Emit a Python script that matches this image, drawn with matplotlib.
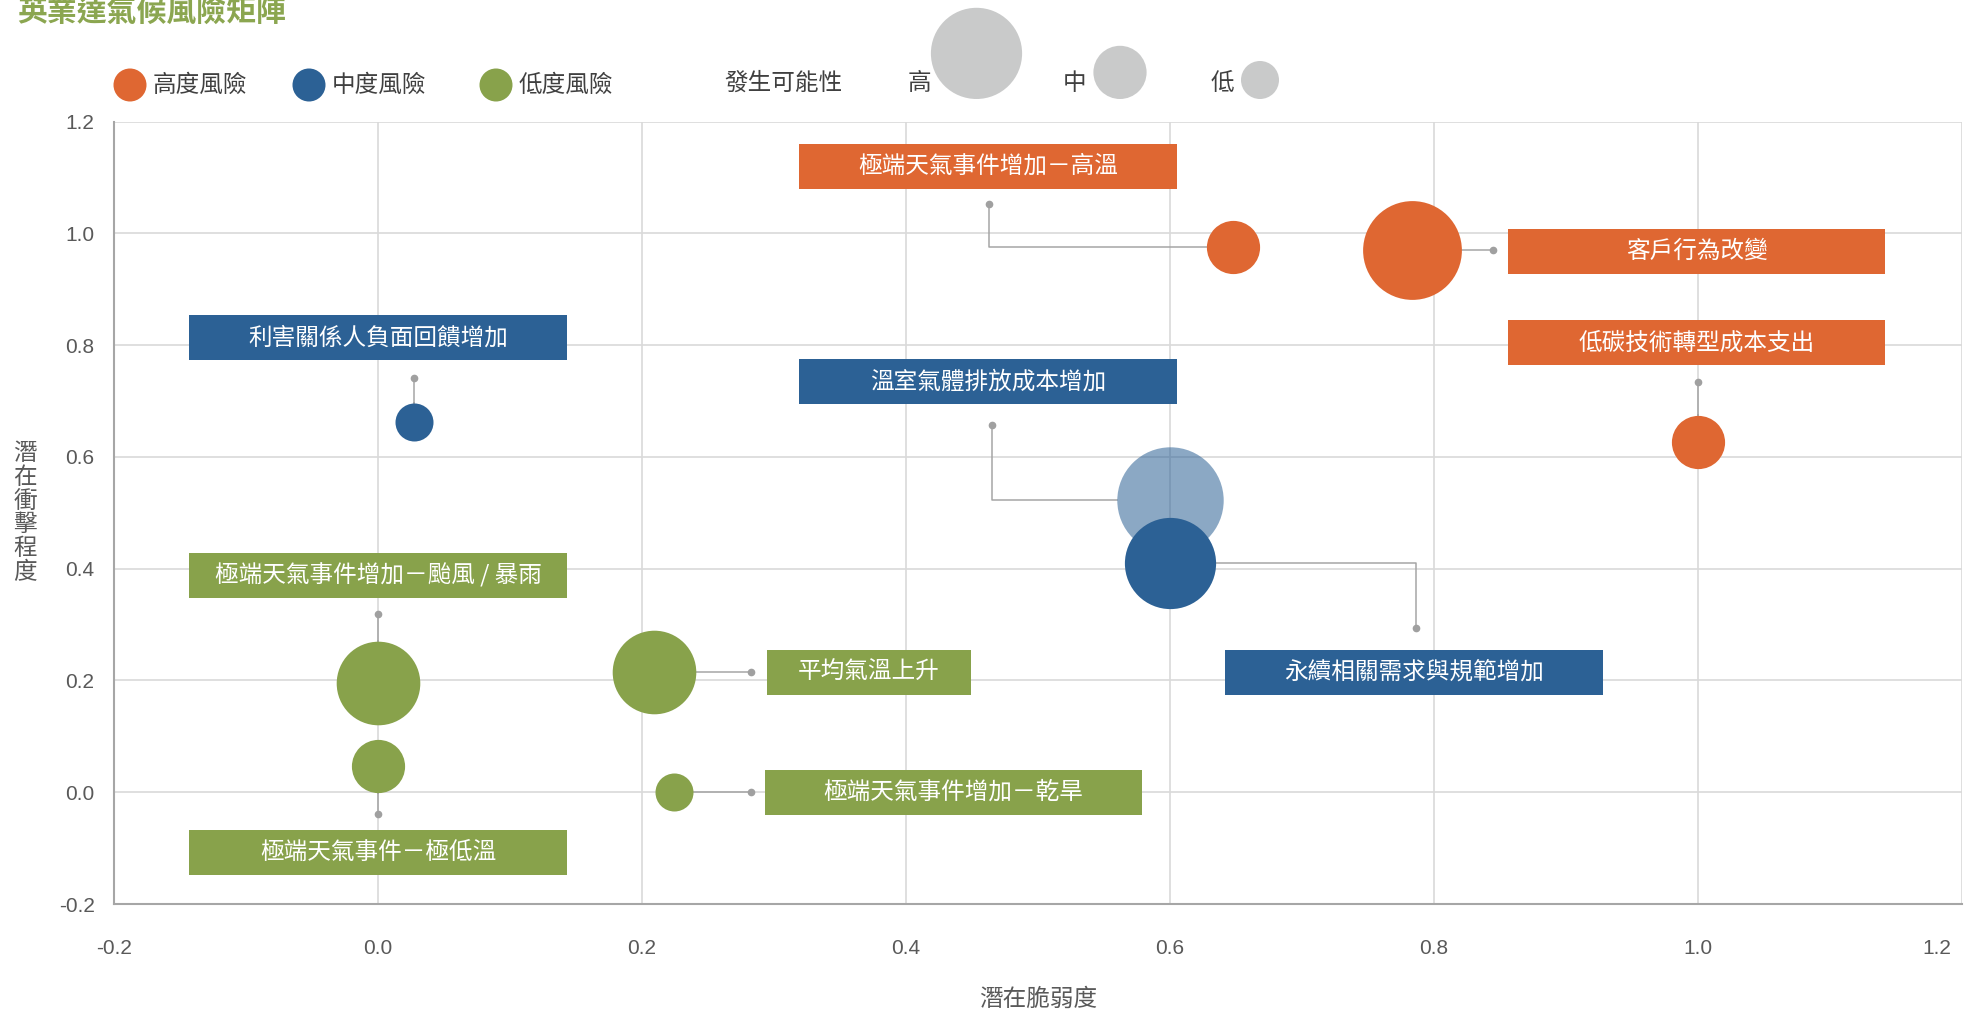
import matplotlib
matplotlib.use("Agg")
import matplotlib.pyplot as plt
from matplotlib.patches import Rectangle, Circle
from matplotlib.ticker import FuncFormatter
from matplotlib.transforms import ScaledTranslation

plt.rcParams['font.family'] = ['Noto Sans CJK TC', 'DejaVu Sans']

# risk items: name, level, vulnerability (x), impact (y), likelihood (bubble scale)
risk_names = ['極端天氣事件增加－高溫', '客戶行為改變', '低碳技術轉型成本支出',
              '利害關係人負面回饋增加', '溫室氣體排放成本增加', '永續相關需求與規範增加',
              '極端天氣事件增加－颱風 / 暴雨', '平均氣溫上升', '極端天氣事件增加－乾旱',
              '極端天氣事件－極低溫']
risk_level = ['高', '高', '高', '中', '中', '中', '低', '低', '低', '低']
vulnerability = [0.648, 0.783, 1.0, 0.027, 0.60, 0.60, 0.0, 0.209, 0.224, 0.0]
impact = [0.975, 0.970, 0.627, 0.662, 0.523, 0.410, 0.195, 0.215, 0.0, 0.047]
likelihood = [1.4, 2.6, 1.4, 1.0, 2.8, 2.4, 2.2, 2.2, 1.0, 1.4]

level_names = ['高度風險', '中度風險', '低度風險']
likelihood_names = ['高', '中', '低']
likelihood_legend = [2.4, 1.4, 1.0]

x_ticks = [-0.2, 0.0, 0.2, 0.4, 0.6, 0.8, 1.0, 1.2]
y_ticks = [-0.2, 0.0, 0.2, 0.4, 0.6, 0.8, 1.0, 1.2]

# label box placement and leader-line end points (data units)
label_x = [0.462, 0.999, 0.999, 0.0, 0.462, 0.785, 0.0, 0.372, 0.436, 0.0]
label_y = [1.120, 0.968, 0.804, 0.813, 0.734, 0.215, 0.388, 0.215, 0.0, -0.107]
label_w = [0.286, 0.286, 0.286, 0.286, 0.286, 0.286, 0.286, 0.155, 0.286, 0.286]
dot_x = [0.4627, 0.845, 1.0, 0.027, 0.4655, 0.786, 0.0, 0.2826, 0.2826, 0.0]
dot_y = [1.053, 0.970, 0.734, 0.741, 0.657, 0.294, 0.319, 0.215, 0.0, -0.039]

colors = {'高': '#DF6732', '中': '#2C6195', '低': '#88A24B'}
GRAY = '#C9CACA'
TXT = '#595959'
BASE_D = 38  # bubble diameter in px for likelihood 1.0

W, H = 1970, 1011
fig = plt.figure(figsize=(W / 100, H / 100), dpi=100)
ax = fig.add_axes([114 / W, 1 - 904 / H, (1962 - 114) / W, (904 - 121.5) / H])
ax.set_xlim(-0.2, 1.2)
ax.set_ylim(-0.2, 1.2)
ax.set_xticks(x_ticks)
ax.set_yticks(y_ticks)
fmt = FuncFormatter(lambda v, p: f'{v:.1f}')
ax.xaxis.set_major_formatter(fmt)
ax.yaxis.set_major_formatter(fmt)
ax.tick_params(length=0, labelsize=15, labelcolor=TXT)
ax.tick_params(axis='x', pad=25)
ax.tick_params(axis='y', pad=14)
for lab in ax.get_xticklabels() + ax.get_yticklabels():
    lab.set_family(['Liberation Sans', 'DejaVu Sans'])
# pull the last x label inside the figure edge
last = ax.xaxis.get_major_ticks()[-1].label1
last.set_transform(last.get_transform() + ScaledTranslation(-0.25, 0, fig.dpi_scale_trans))

ax.grid(True, color='#D9D9D9', lw=1.2, zorder=0)
ax.set_axisbelow(True)
for s in ['top', 'right']:
    ax.spines[s].set_visible(False)
for s in ['left', 'bottom']:
    ax.spines[s].set_color('#A6A6A6')
    ax.spines[s].set_linewidth(1.5)

# leader lines: bubble -> elbow -> dot, starting at the bubble edge
for i in range(len(risk_names)):
    bx, by = vulnerability[i], impact[i]
    dx, dy = dot_x[i], dot_y[i]
    pts = [(bx, by), (dx, by), (dx, dy)]
    p0 = ax.transData.transform((bx, by))
    nxt = (dx, by) if abs(dx - bx) > 1e-6 else (dx, dy)
    p1 = ax.transData.transform(nxt)
    vec = p1 - p0
    vec = vec / (vec ** 2).sum() ** 0.5
    r = BASE_D * likelihood[i] / 2
    start = ax.transData.inverted().transform(p0 + vec * r)
    pts[0] = tuple(start)
    ax.plot([p[0] for p in pts], [p[1] for p in pts], color='#A5A5A5', lw=1.1, zorder=2)
    ax.plot(dx, dy, 'o', color='#A0A0A0', ms=4.5, zorder=2)

# bubbles (the larger mid-risk one is drawn translucent)
for i in range(len(risk_names)):
    d_pt = BASE_D * likelihood[i] * 0.72
    alpha = 0.55 if risk_names[i] == '溫室氣體排放成本增加' else 1.0
    ax.scatter(vulnerability[i], impact[i], s=d_pt ** 2, color=colors[risk_level[i]],
               alpha=alpha, lw=0, zorder=3 + i * 0.01)

# label boxes
box_h = 0.0805
for i, name in enumerate(risk_names):
    c = colors[risk_level[i]]
    ax.add_patch(Rectangle((label_x[i] - label_w[i] / 2, label_y[i] - box_h / 2),
                           label_w[i], box_h, facecolor=c, edgecolor='none', zorder=4))
    ax.text(label_x[i], label_y[i], name, color='white', fontsize=17,
            ha='center', va='center', zorder=5)

# overlay in pixel units for title, legends and axis titles
ov = fig.add_axes([0, 0, 1, 1], facecolor='none')
ov.set_xlim(0, W)
ov.set_ylim(H, 0)
ov.axis('off')

ov.text(17, 21, '英業達氣候風險矩陣', color='#8BA650', fontsize=21.5,
        fontweight='bold', ha='left', va='baseline')

leg_cx = [130, 309, 496]
for cx, name, lvl in zip(leg_cx, level_names, ['高', '中', '低']):
    ov.add_patch(Circle((cx, 85), 16.5, color=colors[lvl], lw=0))
    ov.text(cx + 23, 85, name, fontsize=17, color='#404040', ha='left', va='center')

ov.text(724, 83, '發生可能性', fontsize=17, color='#404040', ha='left', va='center')
lik_cx = [976.5, 1120, 1260]
lik_tx = [919, 1075, 1222]
for cx, tx, name, v in zip(lik_cx, lik_tx, likelihood_names, likelihood_legend):
    r = BASE_D * v / 2
    ov.add_patch(Circle((cx, 99 - r), r, color=GRAY, lw=0))
    ov.text(tx, 83, name, fontsize=17, color='#404040', ha='center', va='center')

ov.text(1038, 999, '潛在脆弱度', fontsize=17, color=TXT, ha='center', va='center')
ov.text(25, 513, '\n'.join('潛在衝擊程度'), fontsize=17, color=TXT,
        ha='center', va='center', linespacing=1.05)

fig.savefig('out.png', dpi=100)
